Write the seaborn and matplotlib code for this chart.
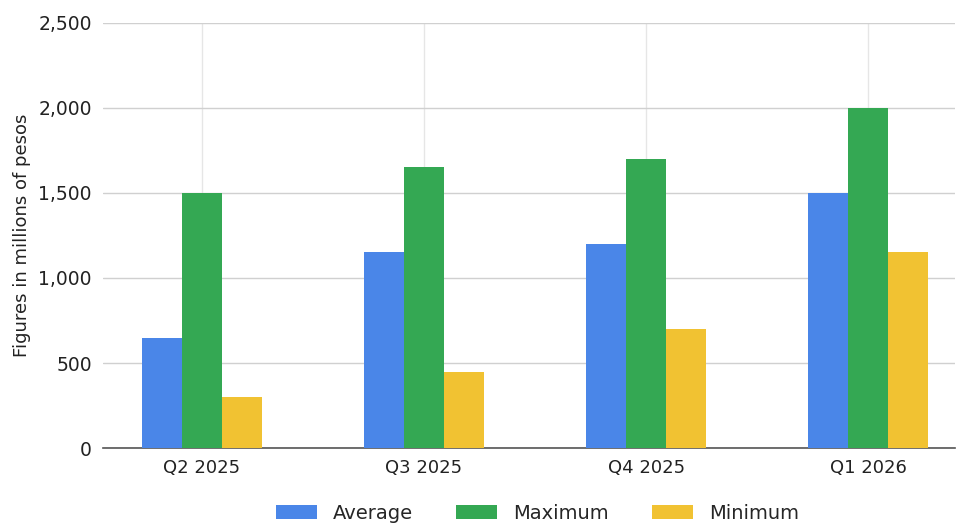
import pandas as pd
import matplotlib.pyplot as plt
import seaborn as sns

# Données du graphique
quarters = ["Q2 2025", "Q3 2025", "Q4 2025", "Q1 2026"]
average = [650, 1150, 1200, 1500]
maximum = [1500, 1650, 1700, 2000]
minimum = [300, 450, 700, 1150]
series_names = ["Average", "Maximum", "Minimum"]
colors = ["#4a86e8", "#34a853", "#f1c232"]

df = pd.DataFrame({
    "quarter": quarters * 3,
    "value": average + maximum + minimum,
    "series": [s for s in series_names for _ in quarters],
})

sns.set_style("white")
plt.rcParams["font.family"] = ["DejaVu Sans"]
plt.rcParams["font.sans-serif"] = ["DejaVu Sans"]

fig = plt.figure(figsize=(9.56, 5.31), dpi=100)
ax = fig.add_axes([0.1077, 0.1563, 0.8913, 0.8004])

sns.barplot(data=df, x="quarter", y="value", hue="series", palette=colors,
            width=0.54, saturation=1, linewidth=0, ax=ax, zorder=3)

ax.set_ylim(0, 2500)
ax.set_xlim(-0.445, 3.39)
ax.set_yticks(range(0, 2501, 500))
ax.set_yticklabels([f"{v:,}" for v in range(0, 2501, 500)])
ax.grid(axis="y", color="#d0d0d0", linewidth=1, zorder=0)
ax.grid(axis="x", color="#e6e6e6", linewidth=1, zorder=0)
ax.set_axisbelow(True)

for side in ["top", "right", "left"]:
    ax.spines[side].set_visible(False)
ax.spines["bottom"].set_color("#555555")
ax.spines["bottom"].set_linewidth(1.2)
ax.tick_params(axis="y", length=0, labelsize=13.5, colors="#222222", pad=8)
ax.tick_params(axis="x", length=0, labelsize=13, colors="#222222", pad=8)

ax.set_xlabel("")
ax.set_ylabel("Figures in millions of pesos", fontsize=13, color="#222222", labelpad=5)

ax.legend(loc="upper center", bbox_to_anchor=(0.51, -0.09), ncol=3, frameon=False,
          fontsize=14, handlelength=2.1, handleheight=0.8, columnspacing=2.2,
          handletextpad=0.85)

plt.savefig("out.png", dpi=100)
